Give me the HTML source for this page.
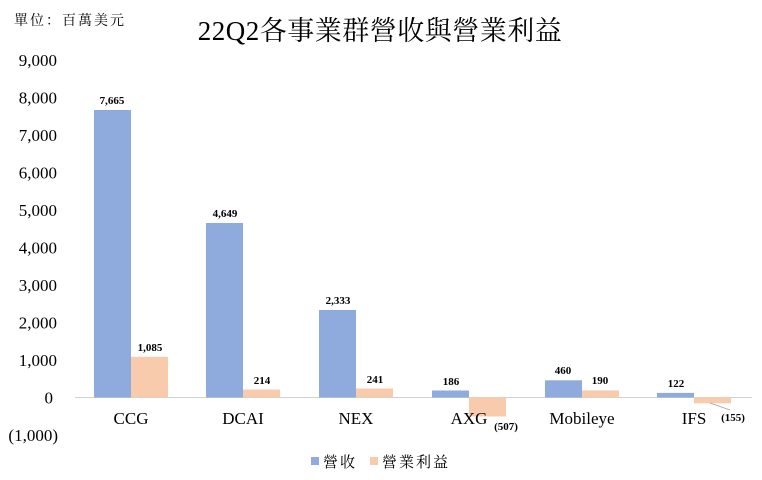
<!DOCTYPE html>
<html><head><meta charset="utf-8"><style>
body{margin:0;background:#fff}
svg{display:block}
</style></head><body>
<svg width="762" height="480" viewBox="0 0 762 480" font-family="Liberation Serif,Noto Serif CJK SC,serif">
<text x="14" y="25" font-size="14" letter-spacing="2">單位：百萬美元</text>
<text x="380" y="40" font-size="27" text-anchor="middle" letter-spacing="0.5">22Q2各事業群營收與營業利益</text>
<g font-size="17" text-anchor="end">
<text x="57" y="66">9,000</text>
<text x="57" y="103.5">8,000</text>
<text x="57" y="141">7,000</text>
<text x="57" y="178.5">6,000</text>
<text x="57" y="216">5,000</text>
<text x="57" y="253.5">4,000</text>
<text x="57" y="291">3,000</text>
<text x="57" y="328.5">2,000</text>
<text x="57" y="366">1,000</text>
<text x="53" y="403.5">0</text>
<text x="58" y="441">(1,000)</text>
</g>
<line x1="75" y1="397.5" x2="752" y2="397.5" stroke="#d0d0d0" stroke-width="1"/>
<g fill="#8FAADC">
<rect x="94" y="110" width="37" height="287.5"/>
<rect x="206" y="223" width="37" height="174.5"/>
<rect x="319" y="310" width="37" height="87.5"/>
<rect x="432" y="390.5" width="37" height="7"/>
<rect x="545" y="380.3" width="37" height="17.2"/>
<rect x="657" y="392.9" width="37" height="4.6"/>
</g>
<g fill="#F8CBAD">
<rect x="131" y="356.8" width="37" height="40.7"/>
<rect x="243" y="389.5" width="37" height="8"/>
<rect x="356" y="388.5" width="37" height="9"/>
<rect x="469" y="397.5" width="37" height="19"/>
<rect x="582" y="390.4" width="37" height="7.1"/>
<rect x="694" y="397.5" width="37" height="5.8"/>
</g>
<line x1="710" y1="403" x2="730" y2="410" stroke="#a0a0a0" stroke-width="0.8"/>
<g font-size="11" font-weight="bold" text-anchor="middle">
<text x="112" y="104">7,665</text>
<text x="150" y="351">1,085</text>
<text x="225" y="217">4,649</text>
<text x="262" y="384">214</text>
<text x="338" y="304">2,333</text>
<text x="375" y="383">241</text>
<text x="451" y="385">186</text>
<text x="506" y="430">(507)</text>
<text x="563" y="374">460</text>
<text x="600" y="384">190</text>
<text x="676" y="387">122</text>
<text x="733" y="421">(155)</text>
</g>
<g font-size="17" text-anchor="middle">
<text x="131" y="424">CCG</text>
<text x="243" y="424">DCAI</text>
<text x="356" y="424">NEX</text>
<text x="469" y="424">AXG</text>
<text x="582" y="424">Mobileye</text>
<text x="694" y="424">IFS</text>
</g>
<rect x="311" y="457" width="8" height="8" fill="#8FAADC"/>
<text x="323" y="467" font-size="15" letter-spacing="2">營收</text>
<rect x="370" y="457" width="8" height="8" fill="#F8CBAD"/>
<text x="382" y="467" font-size="15" letter-spacing="2">營業利益</text>
</svg>
</body></html>
